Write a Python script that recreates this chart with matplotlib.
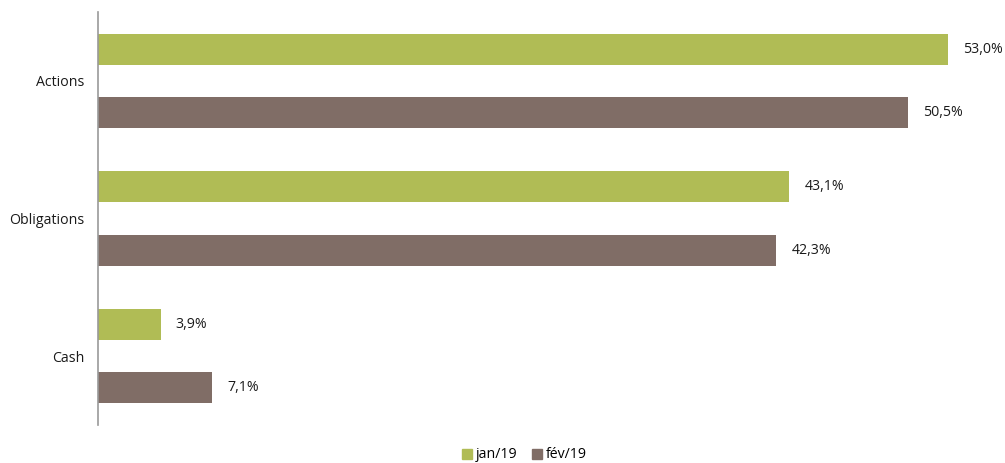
import matplotlib
matplotlib.use("Agg")
import matplotlib.pyplot as plt
from matplotlib.patches import Patch

categories = ["Actions", "Obligations", "Cash"]
series_names = ["jan/19", "fév/19"]
jan = [53.0, 43.1, 3.9]
fev = [50.5, 42.3, 7.1]
colors = ["#B0BC55", "#806D66"]

plt.rcParams['font.family'] = ['Open Sans', 'DejaVu Sans']

W, H = 1005, 463
fig = plt.figure(figsize=(W/100, H/100), dpi=100)
ax = fig.add_axes([98/W, (H-425)/H, (996-98)/W, 413/H])

n = len(categories)
pos = list(range(n))
bh = 0.225
off = 0.229
fs = 10.2
for vals, c, o in [(jan, colors[0], -off), (fev, colors[1], off)]:
    ys = [p + o for p in pos]
    ax.barh(ys, vals, height=bh, color=c)
    for y, v in zip(ys, vals):
        ax.text(v + 0.95, y, f"{v:.1f}%".replace(".", ","), va="center", ha="left",
                fontsize=fs, color="#1a1a1a")

ax.set_xlim(0, 56)
ax.set_ylim(n - 0.5, -0.5)
ax.set_yticks(pos)
ax.set_yticklabels(categories, fontsize=fs, color="#1a1a1a")
ax.tick_params(axis="y", length=0, pad=10)
ax.set_xticks([])
for s in ["top", "right", "bottom"]:
    ax.spines[s].set_visible(False)
ax.spines["left"].set_color("#999999")
ax.spines["left"].set_linewidth(1.2)

handles = [Patch(color=c, label=l) for c, l in zip(colors, series_names)]
fig.legend(handles=handles, loc="center", bbox_to_anchor=(0.522, (H-455)/H),
           ncol=2, frameon=False, fontsize=fs, handlelength=0.7, handleheight=0.7,
           handletextpad=0.3, columnspacing=1.0)

fig.savefig("out.png", dpi=100)
